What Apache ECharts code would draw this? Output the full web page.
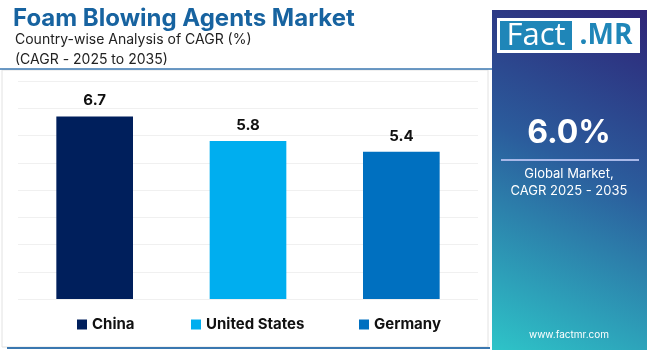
<!DOCTYPE html>
<html>
<head>
<meta charset="utf-8">
<script src="https://cdn.jsdelivr.net/npm/echarts@6/dist/echarts.min.js"></script>
<style>
  html, body { margin: 0; padding: 0; background: #fff; }
  #chart { width: 650px; height: 350px; }
</style>
</head>
<body>
<div id="chart"></div>
<script>
var countries = ["China", "United States", "Germany"];
var cagr = [6.7, 5.8, 5.4];
var barColors = ["#001f5c", "#00aeef", "#0070c0"];
var globalCagr = "6.0%";

var chart = echarts.init(document.getElementById("chart"));

// one series per country so the legend shows each
var series = countries.map(function (name, idx) {
  var d = countries.map(function (c, j) { return j === idx ? cagr[idx] : "-"; });
  return {
    name: name,
    type: "bar",
    stack: "all",
    barWidth: "50%",
    data: d,
    itemStyle: { color: barColors[idx] },
    label: {
      show: true,
      position: "top",
      distance: 8,
      color: "#111",
      fontSize: 15,
      fontWeight: "bold",
      fontFamily: "Inter"
    }
  };
});

var legendLeft = [72, 186, 354];
var legends = countries.map(function (name, idx) {
  return {
    top: 312,
    left: legendLeft[idx],
    itemWidth: 10,
    itemHeight: 10,
    itemGap: 5,
    icon: "rect",
    textStyle: { color: "#111", fontSize: 15, fontWeight: "bold", fontFamily: "Inter" },
    data: [name]
  };
});

var option = {
  animation: false,
  title: [{
    text: "Foam Blowing Agents Market",
    left: 8, top: 2,
    textStyle: { color: "#1763a0", fontSize: 24, fontWeight: "bold", fontFamily: "Inter" }
  }, {
    text: "Country-wise Analysis of CAGR (%)\n(CAGR - 2025 to 2035)",
    left: 10, top: 25,
    textStyle: { color: "#222", fontSize: 14, fontWeight: "normal", fontFamily: "Inter", lineHeight: 20 }
  }],
  legend: legends,
  grid: { left: 18, right: 172, top: 81, bottom: 51 },
  xAxis: {
    type: "category",
    data: countries,
    axisLine: { show: false },
    axisTick: { show: false },
    axisLabel: { show: false }
  },
  yAxis: {
    type: "value",
    min: 0, max: 8, interval: 1,
    axisLabel: { show: false },
    axisLine: { show: false },
    axisTick: { show: false },
    splitLine: { lineStyle: { color: "#f0f0f0" } }
  },
  series: series,
  graphic: [
    { type: "rect", z: -10, shape: { x: 2, y: 70, width: 486, height: 277 },
      style: { fill: "#fff", stroke: "#e2e2e2", lineWidth: 1 } },
    { type: "line", shape: { x1: 0, y1: 69, x2: 492, y2: 69 },
      style: { stroke: "#3a77b0", lineWidth: 1.5 } },
    { type: "line", shape: { x1: 7, y1: 348, x2: 490, y2: 348 },
      style: { stroke: "#3a77b0", lineWidth: 2 } },
    { type: "rect", shape: { x: 492, y: 10, width: 155, height: 340 },
      style: { fill: new echarts.graphic.LinearGradient(1, 0, 0, 1, [
        { offset: 0, color: "#2e2477" },
        { offset: 0.45, color: "#2b5c9c" },
        { offset: 1, color: "#2ec4c8" }
      ]) } },
    { type: "rect", shape: { x: 497, y: 18, width: 143, height: 35 },
      style: { fill: "#ffffff" } },
    { type: "rect", shape: { x: 500, y: 21, width: 72, height: 29 },
      style: { fill: "#1f86b8" } },
    { type: "text", style: { x: 536, y: 36, text: "Fact", fill: "#fff", fontSize: 31,
      fontFamily: "Open Sans", align: "center", verticalAlign: "middle" } },
    { type: "text", style: { x: 606, y: 36, text: ".MR", fill: "#1f86b8", fontSize: 28,
      fontWeight: "bold", fontFamily: "Open Sans", align: "center", verticalAlign: "middle" } },
    { type: "text", style: { x: 569, y: 133, text: globalCagr, fill: "#fff", fontSize: 32,
      fontWeight: "bold", fontFamily: "Inter", align: "center", verticalAlign: "middle" } },
    { type: "line", shape: { x1: 501, y1: 160, x2: 639, y2: 160 },
      style: { stroke: "#a8b8e8", lineWidth: 2 } },
    { type: "text", style: { x: 569, y: 183, text: "Global Market,\nCAGR 2025 - 2035", fill: "#fff",
      fontSize: 13, lineHeight: 17, fontFamily: "Inter", align: "center", verticalAlign: "middle" } },
    { type: "text", style: { x: 569, y: 335, text: "www.factmr.com", fill: "#fff", fontSize: 10,
      fontFamily: "Inter", align: "center", verticalAlign: "middle" } }
  ]
};

chart.setOption(option);
</script>
</body>
</html>
